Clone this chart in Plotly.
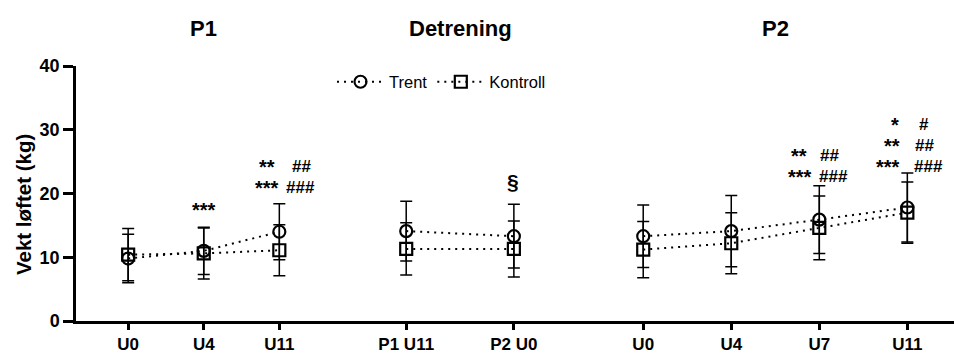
import plotly.graph_objects as go

# ---------------- data ----------------
p1_cats = ["U0", "U4", "U11"]
p1_trent = [9.8, 11.0, 14.0]
p1_trent_sd = [3.8, 3.7, 4.4]
p1_kontroll = [10.4, 10.6, 11.1]
p1_kontroll_sd = [4.1, 4.0, 4.0]

det_cats = ["P1 U11", "P2 U0"]
det_trent = [14.1, 13.3]
det_trent_sd = [4.7, 5.0]
det_kontroll = [11.3, 11.3]
det_kontroll_sd = [4.1, 4.4]

p2_cats = ["U0", "U4", "U7", "U11"]
p2_trent = [13.3, 14.1, 15.9, 17.8]
p2_trent_sd = [4.9, 5.6, 5.3, 5.4]
p2_kontroll = [11.2, 12.2, 14.6, 17.0]
p2_kontroll_sd = [4.4, 4.8, 5.0, 4.8]

panel_titles = ["P1", "Detrening", "P2"]
series_names = ["Trent", "Kontroll"]
y_title = "Vekt løftet (kg)"
y_ticks = [0, 10, 20, 30, 40]

# significance marks: (axis, category index, text, y, xshift)
sig_marks = [
    ("x", 1, "***", 17.4, 0),
    ("x", 2, "**", 24.2, -12),
    ("x", 2, "***", 20.9, -12),
    ("x", 2, "##", 24.2, 22),
    ("x", 2, "###", 20.9, 21),
    ("x2", 1, "§", 21.9, -1),
    ("x3", 2, "**", 25.9, -20),
    ("x3", 2, "***", 22.6, -19),
    ("x3", 2, "##", 25.9, 10),
    ("x3", 2, "###", 22.6, 14),
    ("x3", 3, "*", 30.8, -12),
    ("x3", 3, "**", 27.5, -15),
    ("x3", 3, "***", 24.2, -19),
    ("x3", 3, "#", 30.8, 17),
    ("x3", 3, "##", 27.5, 17),
    ("x3", 3, "###", 24.2, 21),
]

FONT = "Arial, 'Liberation Sans', sans-serif"
BLACK = "#000000"

fig = go.Figure()

segments = [
    ("x", p1_cats, p1_trent, p1_trent_sd, p1_kontroll, p1_kontroll_sd, True),
    ("x2", det_cats, det_trent, det_trent_sd, det_kontroll, det_kontroll_sd, False),
    ("x3", p2_cats, p2_trent, p2_trent_sd, p2_kontroll, p2_kontroll_sd, False),
]

for xa, cats, tr, tr_sd, ko, ko_sd, show in segments:
    for name, vals, sd, sym in [
        (series_names[1], ko, ko_sd, "square-open"),
        (series_names[0], tr, tr_sd, "circle-open"),
    ]:
        fig.add_trace(go.Scatter(
            x=cats, y=vals, name=name, xaxis=xa, yaxis="y",
            mode="lines+markers",
            line=dict(color=BLACK, width=2, dash="2px,5px"),
            marker=dict(symbol=sym, size=12, color=BLACK, line=dict(width=2.2, color=BLACK)),
            error_y=dict(type="data", array=sd, visible=True, color=BLACK, thickness=1.5, width=6),
            showlegend=show, legendrank=1 if name == "Trent" else 2,
        ))

W, H = 954, 355
L, R, T, B = 76, 0, 66, 34
pw = W - L - R
ph = H - T - B
d1 = (333 - L) / pw
d2 = (586 - L) / pw

xcommon = dict(
    type="category", showline=True, linecolor=BLACK, linewidth=2.5,
    ticks="outside", ticklen=6, tickwidth=2.5, tickcolor=BLACK,
    showgrid=False, zeroline=False, anchor="y", automargin=False,
    tickfont=dict(family=FONT, size=17, color=BLACK, weight="bold"),
)
fig.update_layout(
    xaxis=dict(domain=[0, d1], range=[-0.69, 2.71], categoryarray=p1_cats, **xcommon),
    xaxis2=dict(domain=[d1, d2], range=[-0.68, 1.67], categoryarray=det_cats, **xcommon),
    xaxis3=dict(domain=[d2, 1], range=[-0.65, 3.53], categoryarray=p2_cats, **xcommon),
    yaxis=dict(
        range=[0, 40], tickvals=y_ticks, showline=True, linecolor=BLACK, linewidth=2.5,
        ticks="outside", ticklen=10, tickwidth=2.5, tickcolor=BLACK,
        showgrid=False, zeroline=False, anchor="x", automargin=False,
        tickfont=dict(family=FONT, size=18, color=BLACK, weight="bold"),
    ),
    width=W, height=H,
    margin=dict(l=L, r=R, t=T, b=B),
    plot_bgcolor="white", paper_bgcolor="white",
    legend=dict(
        orientation="h", x=(332 - L) / pw, y=1 - (82 - T) / ph,
        xanchor="left", yanchor="middle",
        font=dict(family=FONT, size=16.5, color=BLACK),
        bgcolor="rgba(0,0,0,0)", itemwidth=47, traceorder="normal",
    ),
    font=dict(family=FONT, color=BLACK),
)

# y-axis title
fig.add_annotation(text=y_title, x=(23 - L) / pw, y=1 - (205 - T) / ph, xref="paper", yref="paper",
                   showarrow=False, xanchor="center", yanchor="middle", textangle=-90,
                   font=dict(family=FONT, size=20.5, color=BLACK, weight="bold"))

# panel titles
title_x = [(203 - L) / pw, (460 - L) / pw, (775 - L) / pw]
for t, tx in zip(panel_titles, title_x):
    fig.add_annotation(text=t, x=tx, y=1 + (T - 28) / ph, xref="paper", yref="paper",
                       showarrow=False, xanchor="center", yanchor="middle",
                       font=dict(family=FONT, size=22, color=BLACK, weight="bold"))

for xa, ci, txt, yv, xs in sig_marks:
    if txt == "§":
        fs = 21
    elif "*" in txt:
        fs = 20
    else:
        fs = 17
    fig.add_annotation(text=txt, x=ci, y=yv, xref=xa, yref="y", xshift=xs,
                       showarrow=False, xanchor="center", yanchor="middle",
                       font=dict(family=FONT, size=fs, color=BLACK, weight="bold"))

fig.write_html("out.html")
